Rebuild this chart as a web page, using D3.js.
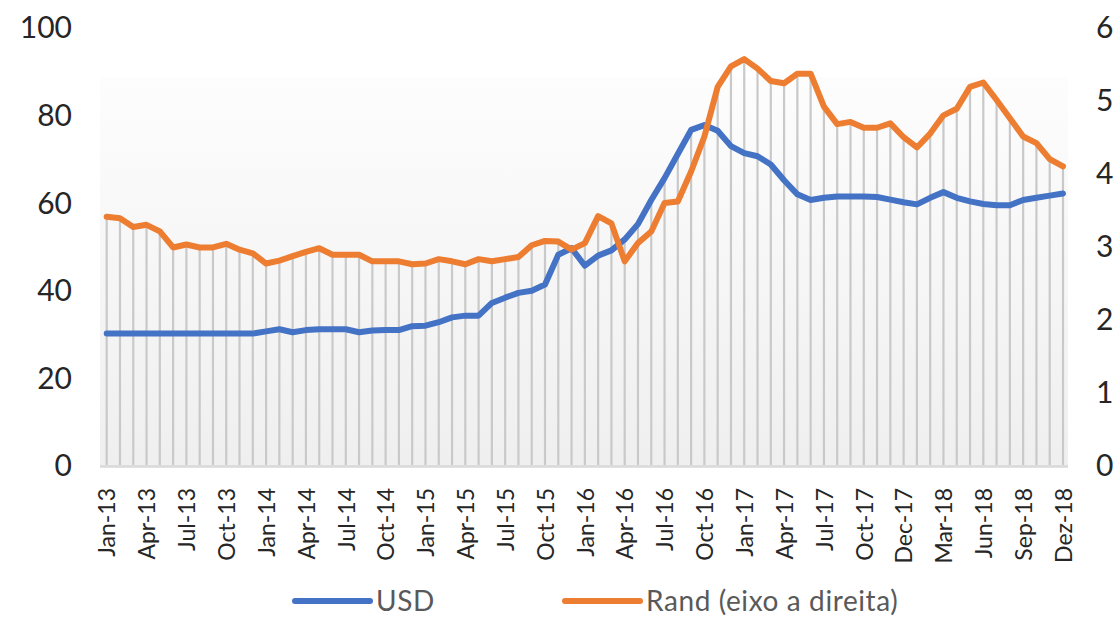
<!DOCTYPE html>
<html>
<head>
<meta charset="utf-8">
<script src="https://cdn.jsdelivr.net/npm/d3@7"></script>
<style>
  html, body { margin: 0; padding: 0; background: #fff; }
  svg text { font-family: Lato, "Open Sans", sans-serif; }
</style>
</head>
<body>
<div id="chart"></div>
<script>
// monthly series, Jan-13 .. Dez-18 (73 points as in the source sheet)
var usd = [30, 30, 30, 30, 30, 30, 30, 30, 30, 30, 30, 30,
           30.5, 31, 30.3, 30.8, 31, 31, 31, 30.3, 30.7, 30.8, 30.8, 31.7,
           31.8, 32.6, 33.7, 34.1, 34.1, 37, 38.2, 39.3, 39.8, 41.2, 48, 49.5,
           45.5, 47.8, 49, 51.5, 55, 60.5, 65.5, 71, 76.5, 77.6, 76.3, 72.8,
           71.2, 70.5, 68.6, 65, 61.8, 60.5, 61, 61.3, 61.3, 61.3, 61.2, 60.6,
           60, 59.5, 61, 62.3, 61, 60.2, 59.6, 59.3, 59.3, 60.5, 61, 61.5, 62];
var rand = [3.40, 3.38, 3.26, 3.29, 3.20, 2.98, 3.02, 2.98, 2.98, 3.03, 2.95, 2.90,
            2.76, 2.80, 2.86, 2.92, 2.97, 2.88, 2.88, 2.88, 2.79, 2.79, 2.79, 2.75,
            2.76, 2.82, 2.79, 2.75, 2.82, 2.79, 2.82, 2.85, 3.01, 3.07, 3.06, 2.95,
            3.04, 3.41, 3.31, 2.79, 3.04, 3.20, 3.59, 3.61, 4.02, 4.50, 5.18, 5.46,
            5.56, 5.43, 5.26, 5.23, 5.36, 5.36, 4.91, 4.67, 4.70, 4.62, 4.62, 4.68,
            4.49, 4.35, 4.54, 4.79, 4.88, 5.18, 5.24, 5.00, 4.75, 4.50, 4.41, 4.19, 4.09];
// every third category gets a label
var tickLabels = ["Jan-13", "Apr-13", "Jul-13", "Oct-13", "Jan-14", "Apr-14", "Jul-14", "Oct-14",
                  "Jan-15", "Apr-15", "Jul-15", "Oct-15", "Jan-16", "Apr-16", "Jul-16", "Oct-16",
                  "Jan-17", "Apr-17", "Jul-17", "Oct-17", "Dec-17", "Mar-18", "Jun-18", "Sep-18", "Dez-18"];
var leftTicks = [0, 20, 40, 60, 80, 100];
var rightTicks = [0, 1, 2, 3, 4, 5, 6];
var seriesNames = ["USD", "Rand (eixo a direita)"];
var seriesColors = ["#4472C4", "#ED7D31"];

var width = 1117, height = 618;
var svg = d3.select("#chart").append("svg")
    .attr("width", width)
    .attr("height", height);

var n = usd.length;
var x = d3.scaleLinear().domain([0, n - 1]).range([106.7, 1063]);
var yL = d3.scaleLinear().domain([0, 100]).range([465, 27]);
var yR = d3.scaleLinear().domain([0, 6]).range([465, 27]);

// plot area background gradient
var grad = svg.append("defs").append("linearGradient")
    .attr("id", "bg").attr("x1", 0).attr("y1", 0).attr("x2", 0).attr("y2", 1);
grad.append("stop").attr("offset", "0%").attr("stop-color", "#fdfdfd");
grad.append("stop").attr("offset", "100%").attr("stop-color", "#efefef");
svg.append("rect")
    .attr("x", 100).attr("y", 77)
    .attr("width", 968).attr("height", yL(0) - 77 + 1)
    .attr("fill", "url(#bg)");

// drop lines up to the higher of the two series
svg.append("g").selectAll("line")
    .data(d3.range(n))
    .enter().append("line")
        .attr("x1", function(i) { return x(i); })
        .attr("x2", function(i) { return x(i); })
        .attr("y1", yL(0))
        .attr("y2", function(i) { return Math.min(yL(usd[i]), yR(rand[i])); })
        .attr("stroke", "#c9c9c9")
        .attr("stroke-width", 2.2);

// category axis line
svg.append("line")
    .attr("x1", 100).attr("x2", 1068)
    .attr("y1", yL(0) + 1.5).attr("y2", yL(0) + 1.5)
    .attr("stroke", "#d9d9d9").attr("stroke-width", 2.5);

// lines
var lineL = d3.line().x(function(d, i) { return x(i); }).y(function(d) { return yL(d); });
var lineR = d3.line().x(function(d, i) { return x(i); }).y(function(d) { return yR(d); });
svg.append("path").datum(usd)
    .attr("d", lineL).attr("fill", "none")
    .attr("stroke", seriesColors[0]).attr("stroke-width", 6)
    .attr("stroke-linejoin", "round").attr("stroke-linecap", "round");
svg.append("path").datum(rand)
    .attr("d", lineR).attr("fill", "none")
    .attr("stroke", seriesColors[1]).attr("stroke-width", 6)
    .attr("stroke-linejoin", "round").attr("stroke-linecap", "round");

// y axes
var axL = svg.append("g").attr("transform", "translate(72,0)")
    .call(d3.axisLeft(yL).tickValues(leftTicks).tickSize(0).tickPadding(0));
var axR = svg.append("g").attr("transform", "translate(1096,0)")
    .call(d3.axisRight(yR).tickValues(rightTicks).tickFormat(d3.format("d"))
        .tickSize(0).tickPadding(0));
[axL, axR].forEach(function(ax) {
    ax.select(".domain").remove();
    ax.selectAll("text")
        .attr("font-size", 30)
        .attr("fill", "#262626")
        .attr("dy", "0.36em");
});

// x axis (every third month)
var axB = svg.append("g").attr("transform", "translate(0," + 488 + ")")
    .call(d3.axisBottom(x)
        .tickValues(tickLabels.map(function(d, i) { return i * 3; }))
        .tickFormat(function(d) { return tickLabels[d / 3]; })
        .tickSize(0).tickPadding(0));
axB.select(".domain").remove();
axB.selectAll("text")
    .attr("font-size", 23)
    .attr("fill", "#262626")
    .attr("text-anchor", "end")
    .attr("transform", "rotate(-90)")
    .attr("x", 0).attr("y", 0)
    .attr("dy", "0.36em");

// legend
var legendX = [295, 565];
var legend = svg.append("g");
seriesNames.forEach(function(name, k) {
    legend.append("line")
        .attr("x1", legendX[k]).attr("x2", legendX[k] + 75)
        .attr("y1", 601).attr("y2", 601)
        .attr("stroke", seriesColors[k]).attr("stroke-width", 6)
        .attr("stroke-linecap", "round");
    legend.append("text")
        .attr("x", legendX[k] + 81).attr("y", 601)
        .attr("dy", "0.36em")
        .attr("font-size", 28)
        .attr("letter-spacing", 0.6)
        .attr("fill", "#595959")
        .text(name);
});
</script>
</body>
</html>
